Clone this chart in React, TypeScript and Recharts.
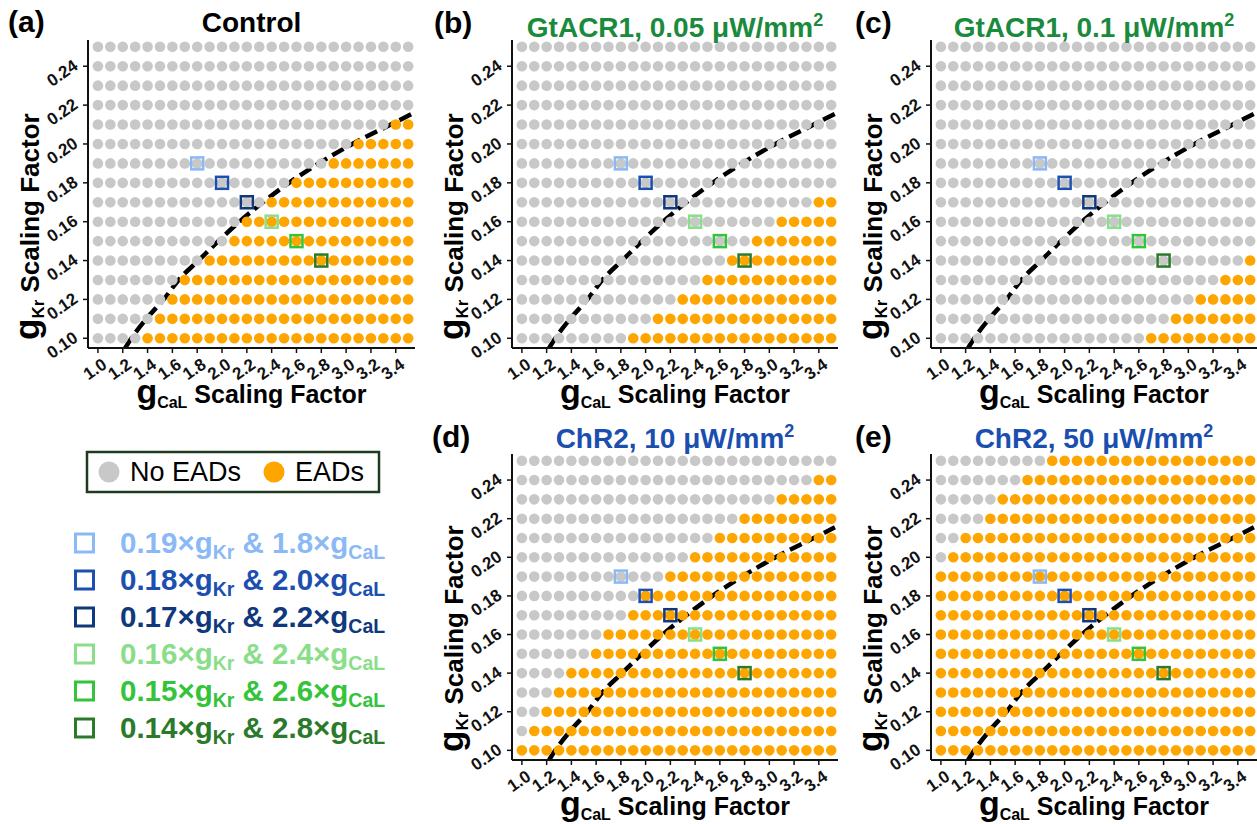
import React from 'react';
import { ComposedChart, Scatter, Line, XAxis, YAxis } from 'recharts';

// ---------------- data ----------------
const GCAL_VALUES = [1.0, 1.1, 1.2, 1.3, 1.4, 1.5, 1.6, 1.7, 1.8, 1.9, 2.0, 2.1, 2.2, 2.3, 2.4, 2.5, 2.6, 2.7, 2.8, 2.9, 3.0, 3.1, 3.2, 3.3, 3.4, 3.5];
const GKR_VALUES = [0.10, 0.11, 0.12, 0.13, 0.14, 0.15, 0.16, 0.17, 0.18, 0.19, 0.20, 0.21, 0.22, 0.23, 0.24, 0.25];
const X_TICKS = [1.0, 1.2, 1.4, 1.6, 1.8, 2.0, 2.2, 2.4, 2.6, 2.8, 3.0, 3.2, 3.4];
const Y_TICKS = [0.10, 0.12, 0.14, 0.16, 0.18, 0.20, 0.22, 0.24];

// first gCaL value showing EADs in each gKr row (rows in GKR_VALUES order); null = no EADs in that row
const ONSET_CONTROL = [1.4, 1.5, 1.6, 1.7, 1.9, 2.1, 2.2, 2.4, 2.6, 2.9, 3.1, 3.4, null, null, null, null];
const ONSET_GTACR1_005 = [1.9, 2.1, 2.3, 2.5, 2.7, 2.9, 3.1, 3.4, null, null, null, null, null, null, null, null];
const ONSET_GTACR1_01 = [2.7, 2.9, 3.1, 3.3, 3.5, null, null, null, null, null, null, null, null, null, null, null];
const ONSET_CHR2_10 = [1.0, 1.1, 1.2, 1.3, 1.4, 1.6, 1.7, 1.9, 2.0, 2.2, 2.4, 2.6, 2.8, 3.1, 3.4, null];
const ONSET_CHR2_50 = [1.0, 1.0, 1.0, 1.0, 1.0, 1.0, 1.0, 1.0, 1.0, 1.0, 1.1, 1.2, 1.4, 1.5, 1.7, 1.9];

// dashed boundary
const BOUNDARY_GCAL = [1.22, 1.27, 1.39, 1.53, 1.65, 1.81, 1.97, 2.14, 2.33, 2.54, 2.78, 3.05, 3.36, 3.53];
const BOUNDARY_GKR = [0.095, 0.10, 0.11, 0.12, 0.13, 0.14, 0.15, 0.16, 0.17, 0.18, 0.19, 0.20, 0.21, 0.2155];

// highlighted parameter sets
const MARKER_GKR = [0.19, 0.18, 0.17, 0.16, 0.15, 0.14];
const MARKER_GCAL = [1.8, 2.0, 2.2, 2.4, 2.6, 2.8];
const MARKER_COLORS = ['#8bb9f6', '#1c4fb0', '#10387c', '#8ade8a', '#33c43a', '#2a7a2a'];

// ---------------- style ----------------
const FONT = "'Liberation Sans', Arial, Helvetica, sans-serif";
const GREY = '#c8c8c8';
const ORANGE = '#ffa500';
const INK = '#111111';
const GREEN_TITLE = '#1a8a3c';
const BLUE_TITLE = '#1a4fb0';

const X_DOMAIN = [0.92, 3.555];
const Y_DOMAIN = [0.095, 0.2535];

const XTick = (props: any) => {
  const { x, y, payload } = props;
  const ax = x + 10;
  const ay = y + 12;
  return (
    <text x={ax} y={ay} transform={`rotate(-35 ${ax} ${ay})`} textAnchor="end" style={{ fontSize: 17, fontWeight: 'bold' }} fill={INK} fontFamily={FONT}>
      {Number(payload.value).toFixed(1)}
    </text>
  );
};

const YTick = (props: any) => {
  const { x, y, payload } = props;
  const ax = x - 2;
  const ay = y + 2;
  return (
    <text x={ax} y={ay} transform={`rotate(-35 ${ax} ${ay})`} textAnchor="end" style={{ fontSize: 17, fontWeight: 'bold' }} fill={INK} fontFamily={FONT}>
      {Number(payload.value).toFixed(2)}
    </text>
  );
};

const makeDot = (color: string) => (p: any) => <circle cx={p.cx} cy={p.cy} r={5.3} fill={color} />;
const SquareShape = (p: any) => (
  <rect x={p.cx - 6} y={p.cy - 6} width={12} height={12} fill="none" stroke={p.payload.color} strokeWidth={2.5} />
);

type Box = { x: number; y: number; w: number; h: number };

function Panel({ box, onset }: { box: Box; onset: (number | null)[] }) {
  const PADL = 60, PADT = 10, PADR = 12, PADB = 60;
  const width = box.w + PADL + PADR;
  const height = box.h + PADT + PADB;
  const noEad: any[] = [];
  const ead: any[] = [];
  GKR_VALUES.forEach((gkr, r) => {
    GCAL_VALUES.forEach((gcal) => {
      const o = onset[r];
      const pt = { x: gcal, y: gkr };
      if (o !== null && gcal >= o - 1e-9) ead.push(pt);
      else noEad.push(pt);
    });
  });
  const markers = MARKER_GCAL.map((x, i) => ({ x, y: MARKER_GKR[i], color: MARKER_COLORS[i] }));
  const boundary = BOUNDARY_GCAL.map((x, i) => ({ x, y: BOUNDARY_GKR[i] }));
  return (
    <div style={{ position: 'absolute', left: box.x - PADL, top: box.y - PADT }}>
      <ComposedChart width={width} height={height} margin={{ top: PADT, right: PADR, bottom: 0, left: 0 }}>
        <XAxis
          type="number"
          dataKey="x"
          domain={X_DOMAIN}
          ticks={X_TICKS}
          interval={0}
          allowDataOverflow
          height={PADB}
          tick={<XTick />}
          tickSize={5}
          axisLine={{ stroke: INK, strokeWidth: 2 }}
          tickLine={{ stroke: INK, strokeWidth: 1.5 }}
        />
        <YAxis
          type="number"
          dataKey="y"
          domain={Y_DOMAIN}
          ticks={Y_TICKS}
          interval={0}
          allowDataOverflow
          width={PADL}
          tick={<YTick />}
          tickSize={5}
          axisLine={{ stroke: INK, strokeWidth: 2 }}
          tickLine={{ stroke: INK, strokeWidth: 1.5 }}
        />
        <Scatter data={noEad} fill={GREY} shape={makeDot(GREY)} isAnimationActive={false} />
        <Scatter data={ead} fill={ORANGE} shape={makeDot(ORANGE)} isAnimationActive={false} />
        <Scatter data={markers} fill="none" shape={SquareShape} isAnimationActive={false} />
        <Line
          data={boundary}
          dataKey="y"
          type="monotone"
          stroke="#000"
          strokeWidth={4.5}
          strokeDasharray="13 6"
          dot={false}
          activeDot={false}
          isAnimationActive={false}
        />
      </ComposedChart>
    </div>
  );
}

const PANELS = [
  { letter: '(a)', title: 'Control', color: '#000', sup: false, onset: ONSET_CONTROL, box: { x: 88, y: 40, w: 327, h: 308 }, lx: 8, ly: 32, ty: 32 },
  { letter: '(b)', title: 'GtACR1, 0.05 μW/mm', color: GREEN_TITLE, sup: true, onset: ONSET_GTACR1_005, box: { x: 512, y: 40, w: 326, h: 308 }, lx: 434, ly: 33, ty: 37 },
  { letter: '(c)', title: 'GtACR1, 0.1 μW/mm', color: GREEN_TITLE, sup: true, onset: ONSET_GTACR1_01, box: { x: 931, y: 40, w: 326, h: 308 }, lx: 855, ly: 33, ty: 37 },
  { letter: '(d)', title: 'ChR2, 10 μW/mm', color: BLUE_TITLE, sup: true, onset: ONSET_CHR2_10, box: { x: 512, y: 454, w: 326, h: 306 }, lx: 432, ly: 447, ty: 448 },
  { letter: '(e)', title: 'ChR2, 50 μW/mm', color: BLUE_TITLE, sup: true, onset: ONSET_CHR2_50, box: { x: 931, y: 454, w: 326, h: 306 }, lx: 855, ly: 447, ty: 448 },
];

function Overlay() {
  return (
    <svg width={1257} height={824} style={{ position: 'absolute', left: 0, top: 0, pointerEvents: 'none' }} fontFamily={FONT}>
      {PANELS.map((p) => {
        const cx = p.box.x + p.box.w / 2;
        const bottom = p.box.y + p.box.h;
        const yl = p.box.x - 49;
        const ylStart = bottom - 8;
        return (
          <g key={p.letter}>
            <text x={p.lx} y={p.ly} fontSize={30} fontWeight="bold" fill="#000">{p.letter}</text>
            <text x={cx} y={p.ty} textAnchor="middle" fontSize={28} fontWeight="bold" fill={p.color}>
              {p.title}
              {p.sup ? <tspan fontSize={18} dy={-11}>2</tspan> : null}
            </text>
            <text x={cx} y={bottom + 55} textAnchor="middle" fontWeight="bold" fill="#000" style={{ whiteSpace: 'pre' }}>
              <tspan fontSize={34}>g</tspan>
              <tspan fontSize={16} dy={5}>CaL</tspan>
              <tspan fontSize={25} dy={-5}> Scaling Factor</tspan>
            </text>
            <text x={yl} y={ylStart} transform={`rotate(-90 ${yl} ${ylStart})`} textAnchor="start" fontWeight="bold" fill="#000" style={{ whiteSpace: 'pre' }}>
              <tspan fontSize={35}>g</tspan>
              <tspan fontSize={17} dy={5}>Kr</tspan>
              <tspan fontSize={26} dy={-5}> Scaling Factor</tspan>
            </text>
          </g>
        );
      })}
      {/* legend box */}
      <rect x={87} y={452} width={292} height={40} fill="none" stroke="#1f3a1f" strokeWidth={2.5} />
      <circle cx={109} cy={472} r={10.5} fill={GREY} />
      <text x={130} y={481} fontSize={27} fill="#000">No EADs</text>
      <circle cx={274} cy={472} r={10.5} fill={ORANGE} />
      <text x={295} y={481} fontSize={27} fill="#000">EADs</text>
      {MARKER_GKR.map((kr, i) => {
        const cy = 543 + i * 37;
        const c = MARKER_COLORS[i];
        return (
          <g key={i}>
            <rect x={75.5} y={cy - 9} width={18} height={18} fill="none" stroke={c} strokeWidth={3} />
            <text x={120} y={cy + 10} fontSize={29.5} fontWeight="bold" fill={c} style={{ whiteSpace: 'pre' }}>
              {`${kr.toFixed(2)}×g`}
              <tspan fontSize={19.5} dy={6}>Kr</tspan>
              <tspan dy={-6}>{` & ${MARKER_GCAL[i].toFixed(1)}×g`}</tspan>
              <tspan fontSize={19.5} dy={6}>CaL</tspan>
            </text>
          </g>
        );
      })}
    </svg>
  );
}

export default function App() {
  return (
    <div style={{ position: 'absolute', left: 0, top: 0, width: 1257, height: 824, overflow: 'hidden', background: '#fff', fontFamily: FONT }}>
      {PANELS.map((p) => (
        <Panel key={p.letter} box={p.box} onset={p.onset} />
      ))}
      <Overlay />
    </div>
  );
}
